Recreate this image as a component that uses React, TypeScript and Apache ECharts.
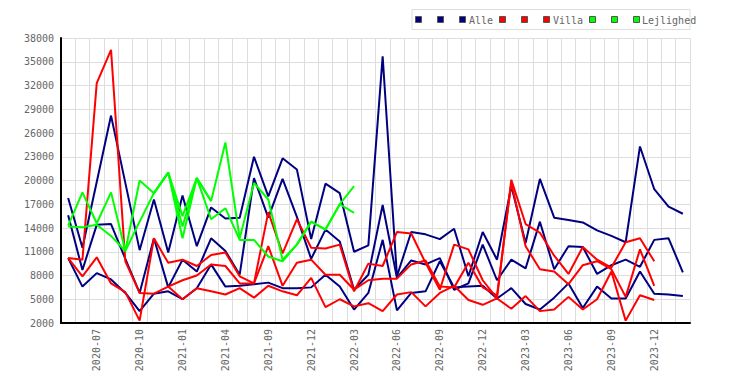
import React, { useEffect, useRef } from "react";
import * as echarts from "echarts";

const months: string[] = [
  "2020-05", "2020-06", "2020-07", "2020-08", "2020-09", "2020-10", "2020-11", "2020-12",
  "2021-01", "2021-02", "2021-03", "2021-04", "2021-05", "2021-06", "2021-09", "2021-10",
  "2021-11", "2021-12", "2022-01", "2022-02", "2022-03", "2022-04", "2022-05", "2022-06",
  "2022-07", "2022-08", "2022-09", "2022-10", "2022-11", "2022-12", "2023-01", "2023-02",
  "2023-03", "2023-04", "2023-05", "2023-06", "2023-07", "2023-08", "2023-09", "2023-10",
  "2023-11", "2023-12", "2024-01", "2024-02",
];

const yTicksMin = 2000;
const yTicksMax = 38000;
const yTickStep = 3000;

const alle1: (number | null)[] = [17800, 11500, 19800, 28200, 19700, 11200, 17600, 10900, 18100, 11700, 16600, 15200, 15300, 23000, 18000, 22800, 21400, 12600, 19600, 18400, 11000, 11800, 35700, 7900, 13500, 13200, 12600, 13900, 7900, 13500, 10000, 19300, 12100, 20200, 15300, 15000, 14700, 13700, 13000, 12200, 24300, 18900, 16700, 15800];
const alle2: (number | null)[] = [15600, 8700, 14400, 14500, 10100, 5800, 12700, 6500, 10000, 8500, 12700, 11100, 8100, 20300, 15300, 20200, 15400, 10100, 13800, 12300, 6200, 8100, 16900, 7700, 9900, 9400, 10200, 6200, 7000, 11900, 7400, 10000, 8900, 14800, 8800, 11700, 11600, 8200, 9300, 10000, 9100, 12500, 12700, 8400];
const alle3: (number | null)[] = [10200, 6600, 8300, 7500, 5800, 3500, 5700, 6000, 5000, 6400, 9400, 6600, 6700, 6900, 7100, 6400, 6400, 6500, 8100, 6600, 3700, 5800, 12500, 3600, 5800, 6000, 9800, 6500, 6600, 6700, 5100, 6400, 4400, 3700, 5200, 7000, 3900, 6600, 5100, 5100, 8500, 5700, 5600, 5400];

const villa1: (number | null)[] = [10200, 10000, 32300, 36500, 9800, 5800, 5700, 6600, 5000, 6400, 6000, 5600, 6400, 5200, 6700, 6000, 5500, 7700, 4000, 5000, 4100, 4500, 3500, 5600, 5900, 4100, 5800, 6700, 4900, 4300, 5100, 3800, 5400, 3500, 3700, 5300, 3700, 5000, 8500, 2300, 5500, 4900, null, null];
const villa2: (number | null)[] = [10200, 7900, 10300, 7000, 5900, 2300, 12700, 9600, 10000, 9200, 10600, 10900, 7900, 7000, 16000, 10800, 15100, 11500, 11400, 11900, 6000, 9500, 9200, 13500, 13300, 9600, 6200, 11900, 11300, 7400, 5100, 20100, 14500, 13400, 10500, 8200, 11600, 10000, 9000, 12200, 12700, 9800, null, null];
const villa3: (number | null)[] = [null, null, null, null, null, null, null, 6600, 7400, 8000, 9400, 9200, 7000, 7000, 11700, 6700, 9600, 10000, 8100, 8100, 6200, 7400, 7600, 7600, 9400, 9900, 6600, 6500, 9600, 6500, 5500, 19700, 11700, 8800, 8500, 6900, 9300, 9800, 8800, 5300, 11300, 6700, null, null];

const lejl1: (number | null)[] = [14300, 18500, 14600, 18500, 11100, 20000, 18400, 21000, 12700, 20300, 17400, 24800, 12700, 19700, 17600, 10000, 11900, 14800, 13800, 17000, 19300];
const lejl2: (number | null)[] = [14200, 14100, 14400, 13000, 11100, 14800, 18400, 21000, 15500, 20300, 15100, 16500, 12500, 12500, 10400, 9800, 11900, 14800, 13800, 17000, 15900];
const lejl3: (number | null)[] = [null, null, null, null, null, null, 18400, 21000, 14200, 20300, 17400];

const groups = [
  { name: "Alle", color: "#000080", data: [alle1, alle2, alle3] },
  { name: "Villa", color: "#ff0000", data: [villa1, villa2, villa3] },
  { name: "Lejlighed", color: "#00ff00", data: [lejl1, lejl2, lejl3] },
];

const FONT = '"DejaVu Sans Mono", monospace';

export default function App() {
  const ref = useRef<HTMLDivElement>(null);
  useEffect(() => {
    document.body.style.margin = "0";
    if (!ref.current) return;
    const chart = echarts.init(ref.current, undefined, { renderer: "svg" });

    const series: any[] = [];
    groups.forEach((g) => {
      g.data.forEach((arr, i) => {
        series.push({
          name: i === g.data.length - 1 ? g.name : g.name + "_" + (i + 1),
          type: "line",
          data: arr.map((v) => (v == null ? null : v - yTicksMin)),
          showSymbol: false,
          symbol: "none",
          lineStyle: { color: g.color, width: 2 },
          itemStyle: { color: g.color },
          connectNulls: false,
        });
      });
    });

    // legend drawn with graphic elements
    const legendEls: any[] = [
      {
        type: "rect",
        shape: { x: 412, y: 9.5, width: 278, height: 20 },
        style: { fill: "#fff", stroke: "#dddddd", lineWidth: 1 },
      },
    ];
    const markerX = [418.5, 440.5, 462.5, 502.5, 524.5, 546.5, 592.5, 614.5, 636.5];
    const textX = [469, 553, 642];
    groups.forEach((g, gi) => {
      for (let k = 0; k < 3; k++) {
        legendEls.push({
          type: "rect",
          shape: { x: markerX[gi * 3 + k] - 3, y: 16.5, width: 6, height: 6 },
          style: { fill: g.color, stroke: "#555", lineWidth: 1 },
        });
      }
      legendEls.push({
        type: "text",
        x: textX[gi],
        y: 20,
        style: {
          text: g.name,
          fill: "#666",
          font: `10px ${FONT}`,
          verticalAlign: "middle",
          align: "left",
        },
      });
    });

    chart.setOption({
      animation: false,
      textStyle: { fontFamily: FONT },
      legend: { show: false },
      graphic: legendEls,
      grid: { left: 61, right: 60, top: 38, bottom: 62, containLabel: false },
      xAxis: {
        type: "category",
        data: months,
        boundaryGap: true,
        axisLine: { show: true, lineStyle: { color: "#000", width: 2 } },
        axisTick: { show: false },
        axisLabel: {
          rotate: 90,
          interval: (index: number) => index % 3 === 2,
          color: "#666",
          fontSize: 10,
          fontFamily: FONT,
          margin: 6,
        },
        splitLine: { show: true, interval: 0, lineStyle: { color: "#dddddd", width: 1 } },
      },
      yAxis: {
        type: "value",
        min: 0,
        max: yTicksMax - yTicksMin,
        interval: yTickStep,
        axisLine: { show: true, lineStyle: { color: "#000", width: 2 } },
        axisTick: { show: false },
        axisLabel: {
          color: "#666",
          fontSize: 10,
          fontFamily: FONT,
          margin: 7,
          formatter: (v: number) => String(v + yTicksMin),
        },
        splitLine: { show: true, lineStyle: { color: "#dddddd", width: 1 } },
      },
      series,
    });
    return () => chart.dispose();
  }, []);
  return <div ref={ref} style={{ width: 750, height: 385 }} />;
}
